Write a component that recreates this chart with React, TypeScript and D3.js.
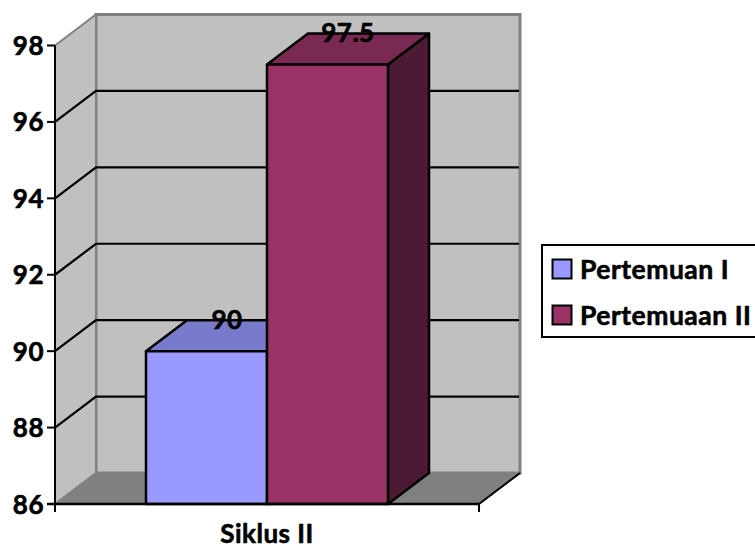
import React from 'react';
import * as d3 from 'd3';

const categories = ['Siklus II'];
const seriesNames = ['Pertemuan I', 'Pertemuaan II'];
const seriesValues = [90, 97.5];
const yTicks = [86, 88, 90, 92, 94, 96, 98];

const frontColors = ['#9999FF', '#993366'];
const topColors = ['#7A7ACC', '#7A2952'];
const sideColors = ['#4D4D80', '#4D1A33'];

const fontFamily = 'Lato, Carlito, sans-serif';

// depth offset of the fake 3d box
const dx = 41;
const dy = -31;

const pts = (list: number[][]) => list.map(p => p.join(',')).join(' ');

// Lato bold is a bit thin and narrow next to the original face
const textStyle = { stroke: '#000', strokeWidth: 0.6, letterSpacing: 0.5 };

export default function App() {
  const y = d3.scaleLinear().domain([86, 98]).range([504, 45.5]);
  const x0 = d3.scaleBand<string>().domain(categories).range([55, 479]);
  const x1 = d3.scaleBand<string>()
    .domain(seriesNames)
    .range([x0(categories[0])!, x0(categories[0])! + x0.bandwidth()])
    .paddingInner(0)
    .paddingOuter(0.752);

  const left = x0.range()[0];
  const right = x0.range()[1];
  const top = y(98);
  const bottom = y(86);

  return (
    <svg
      width={755}
      height={548}
      style={{ position: 'absolute', left: 0, top: 0, background: '#fff' }}
      fontFamily={fontFamily}
      fontWeight={700}
    >
      {/* back wall */}
      <rect x={left + dx} y={top + dy} width={right - left} height={bottom - top} fill="#C0C0C0" stroke="#808080" strokeWidth={3} />
      {/* side wall */}
      <polygon
        points={pts([[left, top], [left + dx, top + dy], [left + dx, bottom + dy], [left, bottom]])}
        fill="#C0C0C0"
        stroke="#808080"
        strokeWidth={2}
      />
      {/* floor */}
      <polygon
        points={pts([[left, bottom], [left + dx, bottom + dy], [right + dx, bottom + dy], [right, bottom]])}
        fill="#808080"
        stroke="#808080"
        strokeWidth={1.5}
      />

      {/* gridlines */}
      {yTicks.filter(t => t !== 86 && t !== 98).map(t => (
        <path
          key={t}
          d={`M${left},${y(t)} L${left + dx},${y(t) + dy} H${right + dx - 1}`}
          fill="none"
          stroke="#000"
          strokeWidth={2.2}
        />
      ))}

      {/* bars */}
      {seriesNames.map((name, i) => {
        const xa = x1(name)!;
        const xb = xa + x1.bandwidth();
        const yt = y(seriesValues[i]);
        return (
          <g key={name} stroke="#000" strokeWidth={2.5} strokeLinejoin="round">
            <polygon
              points={pts([[xb, yt], [xb + dx, yt + dy], [xb + dx, bottom + dy], [xb, bottom]])}
              fill={sideColors[i]}
            />
            <polygon
              points={pts([[xa, yt], [xa + dx, yt + dy], [xb + dx, yt + dy], [xb, yt]])}
              fill={topColors[i]}
            />
            <rect x={xa} y={yt} width={xb - xa} height={bottom - yt} fill={frontColors[i]} />
          </g>
        );
      })}

      {/* axes */}
      <line x1={left} x2={left} y1={top} y2={bottom + 8} stroke="#000" strokeWidth={2} />
      <line x1={left - 8} x2={right} y1={bottom} y2={bottom} stroke="#000" strokeWidth={2.5} />
      <line x1={right} x2={right} y1={bottom} y2={bottom + 8} stroke="#000" strokeWidth={2} />
      <line x1={right} x2={right + dx} y1={bottom} y2={bottom + dy} stroke="#000" strokeWidth={2} />
      {yTicks.map(t => (
        <g key={t}>
          <line x1={left - 8} x2={left} y1={y(t)} y2={y(t)} stroke="#000" strokeWidth={2} />
          <text x={44} y={y(t) + 9.5} textAnchor="end" fontSize={26} fill="#000" style={textStyle}>{t}</text>
        </g>
      ))}

      {/* value labels */}
      {seriesNames.map((name, i) => (
        <text
          key={name}
          x={x1(name)! + x1.bandwidth() / 2 + 20.5}
          y={y(seriesValues[i]) + dy + 8.5}
          textAnchor="middle"
          fontSize={26}
          fill="#000"
          style={textStyle}
        >
          {seriesValues[i]}
        </text>
      ))}

      <text x={(left + right) / 2} y={543} textAnchor="middle" fontSize={26} fill="#000" style={textStyle}>{categories[0]}</text>

      {/* legend, runs off the right edge like the original */}
      <rect x={542} y={245} width={216} height={92} fill="#fff" stroke="#000" strokeWidth={2} />
      {seriesNames.map((name, i) => (
        <g key={name}>
          <rect x={552.5} y={259.5 + i * 46} width={19} height={19} fill={frontColors[i]} stroke="#000" strokeWidth={2} />
          <text x={580} y={279 + i * 46} fontSize={26.5} fill="#000" style={textStyle}>{name}</text>
        </g>
      ))}
    </svg>
  );
}
